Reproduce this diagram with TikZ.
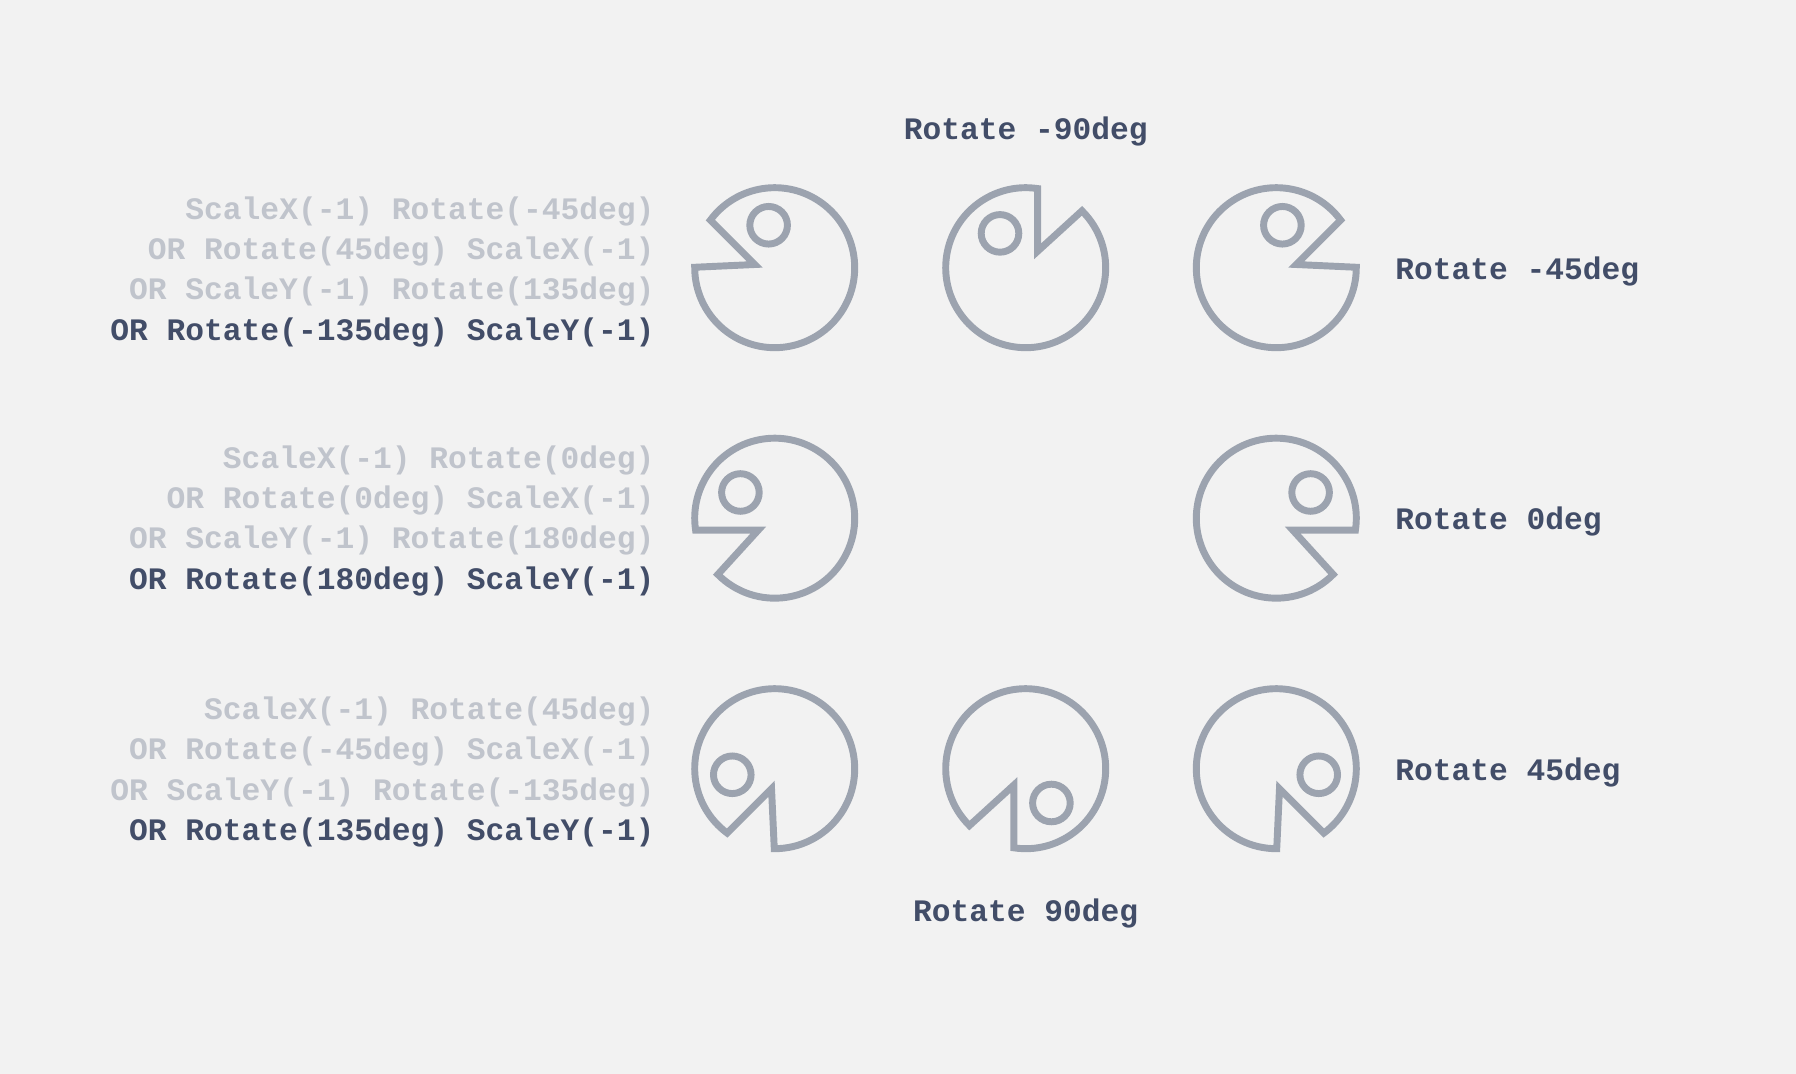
\documentclass[tikz,border=0pt]{standalone}
\usepackage{fontspec}
\setmainfont{Liberation Mono}
\definecolor{bgc}{HTML}{F2F2F2}
\definecolor{stroke}{HTML}{9CA3AF}
\definecolor{darktxt}{HTML}{424D68}
\definecolor{lighttxt}{HTML}{C0C4CC}
\newcommand{\pacman}[3]{% centre x, centre y (screen), transform
  \begin{scope}[shift={(#1,1074-#2)},#3]
    \draw[pacline] (-8.55:80) arc[start angle=-8.55,end angle=315.3,radius=80] -- (16.4,-11.9) -- cycle;
    \draw[pacline] (34.3,25.7) circle[radius=18.8];
  \end{scope}}
\tikzset{
  pacline/.style={draw=stroke,line width=5.2pt,miter limit=10,line join=miter},
  lbl/.style={font=\fontsize{23.45pt}{23.45pt}\selectfont\bfseries,inner sep=0pt,text=darktxt},
  lgt/.style={lbl,text=lighttxt,anchor=base east},
  drk/.style={lbl,anchor=base east}
}
\begin{document}
\begin{tikzpicture}[x=0.75pt,y=0.75pt]
\useasboundingbox (0,0) rectangle (1796,1074);
\fill[bgc] (0,0) rectangle (1796,1074);
\def\xa{774.7}\def\xb{1025.7}\def\xc{1276.3}
\def\ya{267.7}\def\yb{518.2}\def\yc{768.7}
\pacman{\xa}{\ya}{xscale=-1,rotate=45}
\pacman{\xb}{\ya}{rotate=90}
\pacman{\xc}{\ya}{rotate=45}
\pacman{\xa}{\yb}{xscale=-1}
\pacman{\xc}{\yb}{}
\pacman{\xa}{\yc}{xscale=-1,rotate=-45}
\pacman{\xb}{\yc}{rotate=-90}
\pacman{\xc}{\yc}{rotate=-45}
% left text
\node[lgt] (a1) at (654.8,1074-220) {ScaleX(-1) Rotate(-45deg)};
\node[lgt] (a2) at (654.8,1074-260) {OR Rotate(45deg) ScaleX(-1)};
\node[lgt] (a3) at (654.8,1074-300) {OR ScaleY(-1) Rotate(135deg)};
\node[drk] (a4) at (654.8,1074-340.5) {OR Rotate(-135deg) ScaleY(-1)};
\node[lgt] (b1) at (654.8,1074-468.5) {ScaleX(-1) Rotate(0deg)};
\node[lgt] (b2) at (654.8,1074-508.5) {OR Rotate(0deg) ScaleX(-1)};
\node[lgt] (b3) at (654.8,1074-549) {OR ScaleY(-1) Rotate(180deg)};
\node[drk] (b4) at (654.8,1074-590) {OR Rotate(180deg) ScaleY(-1)};
\node[lgt] (c1) at (654.8,1074-720) {ScaleX(-1) Rotate(45deg)};
\node[lgt] (c2) at (654.8,1074-760) {OR Rotate(-45deg) ScaleX(-1)};
\node[lgt] (c3) at (654.8,1074-800.5) {OR ScaleY(-1) Rotate(-135deg)};
\node[drk] (c4) at (654.8,1074-841) {OR Rotate(135deg) ScaleY(-1)};
% right and centre labels
\node[lbl,anchor=base west] (r1) at (1395,1074-280) {Rotate -45deg};
\node[lbl,anchor=base west] (r2) at (1395,1074-530) {Rotate 0deg};
\node[lbl,anchor=base west] (r3) at (1395,1074-781) {Rotate 45deg};
\node[lbl,anchor=base] (t) at (1025.7,1074-140) {Rotate -90deg};
\node[lbl,anchor=base] (u) at (1025.7,1074-922) {Rotate 90deg};
\end{tikzpicture}
\end{document}
